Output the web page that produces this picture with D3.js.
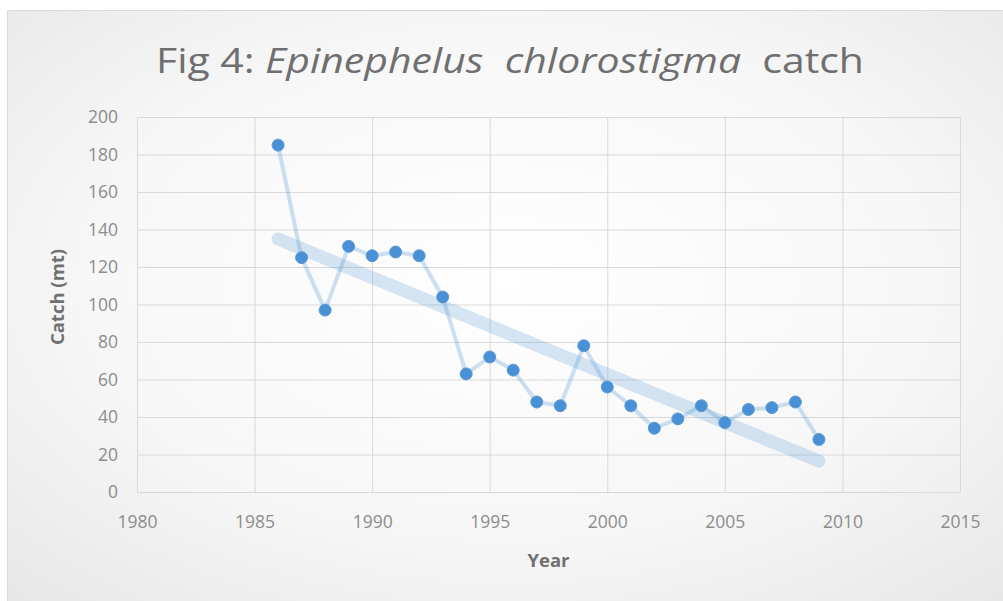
<!DOCTYPE html>
<html>
<head>
<meta charset="utf-8">
<script src="https://cdn.jsdelivr.net/npm/d3@7"></script>
<style>
  body { margin: 0; background: #fff; }
  svg { display: block; }
</style>
</head>
<body>
<div id="chart"></div>
<script>
// Data
var years = [1986, 1987, 1988, 1989, 1990, 1991, 1992, 1993, 1994, 1995, 1996, 1997,
  1998, 1999, 2000, 2001, 2002, 2003, 2004, 2005, 2006, 2007, 2008, 2009];
var catches = [185, 125, 97, 131, 126, 128, 126, 104, 63, 72, 65, 48,
  46, 78, 56, 46, 34, 39, 46, 37, 44, 45, 48, 28];
var xTicks = [1980, 1985, 1990, 1995, 2000, 2005, 2010, 2015];
var yTicks = [0, 20, 40, 60, 80, 100, 120, 140, 160, 180, 200];

var data = years.map(function(y, i) { return { year: y, catch: catches[i] }; });

// SVG dimensions
var svgWidth = 1003;
var svgHeight = 601;

var margin = { top: 117, right: 43, bottom: 109, left: 137 };
var width = svgWidth - margin.left - margin.right;
var height = svgHeight - margin.top - margin.bottom;

var font = "'Open Sans', sans-serif";

var svg = d3.select("#chart")
  .append("svg")
  .attr("width", svgWidth)
  .attr("height", svgHeight);

// background gradient like the Excel chart area
var defs = svg.append("defs");
var grad = defs.append("radialGradient")
  .attr("id", "bg")
  .attr("cx", "50%").attr("cy", "45%").attr("r", "75%");
grad.append("stop").attr("offset", "0%").attr("stop-color", "#ffffff");
grad.append("stop").attr("offset", "55%").attr("stop-color", "#f7f7f7");
grad.append("stop").attr("offset", "100%").attr("stop-color", "#e6e6e6");

svg.append("rect")
  .attr("x", 7.5).attr("y", 10.5)
  .attr("width", svgWidth).attr("height", svgHeight)
  .attr("fill", "url(#bg)")
  .attr("stroke", "#d9d9d9");

var chartGroup = svg.append("g")
  .attr("transform", `translate(${margin.left}, ${margin.top})`);

var xScale = d3.scaleLinear().domain([1980, 2015]).range([0, width]);
var yScale = d3.scaleLinear().domain([0, 200]).range([height, 0]);

// gridlines
chartGroup.append("g")
  .call(d3.axisLeft(yScale).tickValues(yTicks).tickSize(-width).tickFormat(""))
  .call(g => g.select(".domain").remove())
  .selectAll("line").attr("stroke", "#d9d9d9");

chartGroup.append("g")
  .attr("transform", `translate(0, ${height})`)
  .call(d3.axisBottom(xScale).tickValues(xTicks).tickSize(-height).tickFormat(""))
  .call(g => g.select(".domain").remove())
  .selectAll("line").attr("stroke", "#d9d9d9");

// tick labels
var leftAxis = chartGroup.append("g")
  .call(d3.axisLeft(yScale).tickValues(yTicks).tickSize(0).tickPadding(19));
leftAxis.select(".domain").remove();
leftAxis.selectAll("text")
  .attr("font-family", font)
  .attr("font-size", "17.5px")
  .attr("fill", "#8c8c8c");

var bottomAxis = chartGroup.append("g")
  .attr("transform", `translate(0, ${height})`)
  .call(d3.axisBottom(xScale).tickValues(xTicks).tickFormat(d3.format("d")).tickSize(0).tickPadding(24));
bottomAxis.select(".domain").remove();
bottomAxis.selectAll("text")
  .attr("font-family", font)
  .attr("font-size", "17.5px")
  .attr("fill", "#8c8c8c");

// linear trendline (least squares, as Excel draws it)
var mx = d3.mean(data, d => d.year);
var my = d3.mean(data, d => d.catch);
var slope = d3.sum(data, d => (d.year - mx) * (d.catch - my)) / d3.sum(data, d => (d.year - mx) * (d.year - mx));
var intercept = my - slope * mx;
var x0 = d3.min(years), x1 = d3.max(years);

chartGroup.append("line")
  .attr("x1", xScale(x0)).attr("y1", yScale(intercept + slope * x0))
  .attr("x2", xScale(x1)).attr("y2", yScale(intercept + slope * x1))
  .attr("stroke", "#5b9bd5")
  .attr("stroke-opacity", 0.25)
  .attr("stroke-width", 13)
  .attr("stroke-linecap", "round");

// data line
var line = d3.line()
  .x(d => xScale(d.year))
  .y(d => yScale(d.catch));

chartGroup.append("path")
  .datum(data)
  .attr("d", line)
  .attr("fill", "none")
  .attr("stroke", "#5b9bd5")
  .attr("stroke-opacity", 0.3)
  .attr("stroke-width", 4)
  .attr("stroke-linejoin", "round");

// markers
chartGroup.selectAll("circle")
  .data(data)
  .enter()
  .append("circle")
  .attr("cx", d => xScale(d.year))
  .attr("cy", d => yScale(d.catch))
  .attr("r", 6)
  .attr("fill", "#4a90d6")
  .attr("stroke", "#5b9bd5")
  .attr("stroke-width", 1);

// Title
var title = svg.append("text")
  .attr("x", 510)
  .attr("y", 73)
  .attr("text-anchor", "middle")
  .attr("font-family", font)
  .attr("font-size", "35px")
  .attr("fill", "#6f6f6f")
  .attr("textLength", 708)
  .attr("lengthAdjust", "spacingAndGlyphs");
title.append("tspan").text("Fig 4: ");
title.append("tspan").attr("font-style", "italic").text("Epinephelus\u00a0 chlorostigma");
title.append("tspan").text("\u00a0 catch");

// Y Axis Label
svg.append("text")
  .attr("transform", `translate(64, 297) rotate(-90)`)
  .attr("text-anchor", "middle")
  .attr("font-family", font)
  .attr("font-size", "18.5px")
  .attr("font-weight", "bold")
  .attr("fill", "#707070")
  .text("Catch (mt)");

// X Axis Label
svg.append("text")
  .attr("x", margin.left + width / 2)
  .attr("y", 567)
  .attr("text-anchor", "middle")
  .attr("font-family", font)
  .attr("font-size", "18.5px")
  .attr("font-weight", "bold")
  .attr("fill", "#707070")
  .text("Year");
</script>
</body>
</html>
